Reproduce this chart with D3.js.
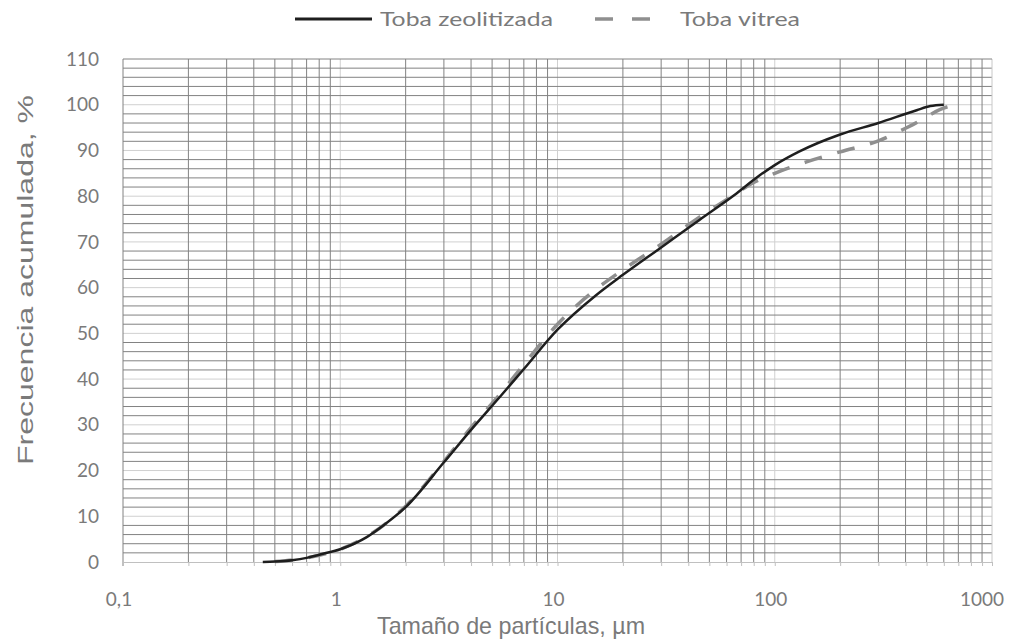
<!DOCTYPE html>
<html>
<head>
<meta charset="utf-8">
<script src="https://cdn.jsdelivr.net/npm/d3@7"></script>
<style>
  html, body { margin: 0; padding: 0; background: #fff; }
  svg { display: block; }
</style>
</head>
<body>
<svg id="chart" width="1023" height="642"></svg>
<script>
// Particle size distribution: cumulative frequency vs particle size (log scale)
const seriesNames = ["Toba zeolitizada", "Toba vitrea"];

const zeoSize  = [0.44, 0.5, 0.6, 0.7, 0.8, 1, 1.33, 1.6, 2, 3, 4, 5.5, 7, 10, 15, 20, 30, 45, 65, 85, 100, 130, 200, 300, 450, 520, 600];
const zeoFreq  = [0, 0.1, 0.4, 0.9, 1.6, 2.8, 5.5, 8.2, 12, 21.8, 28.9, 36.4, 42.2, 50.8, 58.3, 62.8, 68.8, 74.8, 80.2, 84.5, 86.8, 89.8, 93.5, 96, 98.8, 99.7, 100];

const vitSize  = [0.5, 0.7, 1, 1.33, 2, 3, 4, 5.5, 7, 10, 15, 20, 30, 45, 65, 80, 100, 140, 200, 300, 430, 620, 700];
const vitFreq  = [0.1, 0.9, 2.8, 5.6, 12.2, 22, 29.4, 37, 43.2, 52, 59.6, 63.9, 69.5, 75.4, 80.3, 83, 85, 87.5, 89.7, 92.1, 95.6, 99.5, 100];

const xTickValues = [0.1, 1, 10, 100, 1000];
const xTickLabels = ["0,1", "1", "10", "100", "1000"];
const yTickValues = [0, 10, 20, 30, 40, 50, 60, 70, 80, 90, 100, 110];

const xTitle = "Tamaño  de partículas, µm";
const yTitle = "Frecuencia acumulada, %";

const svg = d3.select("#chart");
const plotL = 123, plotR = 992, plotT = 59, plotB = 562;

const x = d3.scaleLog().domain([0.1, 1000]).range([plotL, plotR]);
const y = d3.scaleLinear().domain([0, 110]).range([plotB, plotT]);

const minorColor = "#828282";
const majorColor = "#d0d0d0";
const textColor = "#7a7a7a";

// minor vertical values (2..9 within each decade) and decade lines
const decades = [0.1, 1, 10, 100];
const xMinor = [];
decades.forEach(d => { for (let k = 2; k <= 9; k++) xMinor.push(+(d * k).toPrecision(3)); });
const xMajor = [1, 10, 100];

// horizontal grid: minor every 2, major every 10
const yMinor = d3.range(2, 110, 2).filter(v => v % 10 !== 0);
const yMajor = d3.range(10, 110, 10);

const grid = svg.append("g");
grid.selectAll(".ymaj").data(yMajor).join("line")
  .attr("x1", plotL).attr("x2", plotR)
  .attr("y1", d => y(d)).attr("y2", d => y(d))
  .attr("stroke", majorColor).attr("stroke-width", 1);
grid.selectAll(".xmaj").data(xMajor).join("line")
  .attr("x1", d => x(d)).attr("x2", d => x(d))
  .attr("y1", plotT).attr("y2", plotB)
  .attr("stroke", majorColor).attr("stroke-width", 1);
grid.selectAll(".ymin").data(yMinor).join("line")
  .attr("x1", plotL).attr("x2", plotR)
  .attr("y1", d => y(d)).attr("y2", d => y(d))
  .attr("stroke", minorColor).attr("stroke-width", 1);
grid.selectAll(".xmin").data(xMinor).join("line")
  .attr("x1", d => x(d)).attr("x2", d => x(d))
  .attr("y1", plotT).attr("y2", plotB)
  .attr("stroke", minorColor).attr("stroke-width", 1);

// plot frame
grid.append("line").attr("x1", x(1000)).attr("x2", x(1000)).attr("y1", plotT).attr("y2", plotB)
  .attr("stroke", "#c8c8c8");
grid.append("line").attr("x1", plotL).attr("x2", plotR).attr("y1", y(110)).attr("y2", y(110))
  .attr("stroke", minorColor);
grid.append("line").attr("x1", x(0.1)).attr("x2", x(0.1)).attr("y1", plotT).attr("y2", plotB + 4)
  .attr("stroke", minorColor);

// x axis (line + small ticks at every grid position)
const xAxis = d3.axisBottom(x)
  .tickValues(xTickValues.concat(xMinor))
  .tickSize(4)
  .tickFormat("");
const xg = svg.append("g").attr("transform", `translate(0,${plotB})`).call(xAxis);
xg.select(".domain").attr("stroke", "#c0c0c0");
xg.selectAll(".tick line").attr("stroke", "#c0c0c0");

// x tick labels
svg.append("g").selectAll("text").data(xTickValues).join("text")
  .attr("x", (d, i) => i === xTickValues.length - 1 ? x(d) + 12 : x(d) - 4)
  .attr("y", 601)
  .attr("text-anchor", (d, i) => i === xTickValues.length - 1 ? "end" : "middle")
  .attr("dominant-baseline", "middle")
  .attr("font-family", "Lato, 'Open Sans', sans-serif")
  .attr("font-size", 19)
  .attr("fill", textColor)
  .text((d, i) => xTickLabels[i]);

// y tick labels
const yAxis = d3.axisLeft(y).tickValues(yTickValues).tickSize(0).tickPadding(0);
const yg = svg.append("g").attr("transform", `translate(${plotL - 24},0)`).call(yAxis);
yg.select(".domain").remove();
yg.selectAll("text")
  .attr("font-family", "Lato, 'Open Sans', sans-serif")
  .attr("font-size", 19)
  .attr("fill", textColor);

// axis titles
svg.append("text")
  .attr("x", 511).attr("y", 628)
  .attr("text-anchor", "middle").attr("dominant-baseline", "middle")
  .attr("font-family", "'Liberation Sans Narrow', 'Liberation Sans', Arial, sans-serif")
  .attr("font-size", 24)
  .attr("fill", textColor)
  .attr("textLength", 268).attr("lengthAdjust", "spacingAndGlyphs")
  .text(xTitle);

svg.append("text")
  .attr("transform", "translate(27,280) rotate(-90)")
  .attr("text-anchor", "middle").attr("dominant-baseline", "middle")
  .attr("font-family", "'Liberation Sans', Arial, sans-serif")
  .attr("font-size", 22)
  .attr("fill", textColor)
  .attr("textLength", 370).attr("lengthAdjust", "spacingAndGlyphs")
  .text(yTitle);

// curves
const line = d3.line()
  .x(d => x(d[0]))
  .y(d => y(d[1]))
  .curve(d3.curveMonotoneX);

const vitData = vitSize.map((s, i) => [s, vitFreq[i]]);
const zeoData = zeoSize.map((s, i) => [s, zeoFreq[i]]);

svg.append("path").datum(vitData)
  .attr("d", line)
  .attr("fill", "none")
  .attr("stroke", "#8f8f8f")
  .attr("stroke-width", 3.5)
  .attr("stroke-dasharray", "18,16");

svg.append("path").datum(zeoData)
  .attr("d", line)
  .attr("fill", "none")
  .attr("stroke", "#1e1e1e")
  .attr("stroke-width", 2.5);

// legend
const lg = svg.append("g");
lg.append("line").attr("x1", 295).attr("x2", 372).attr("y1", 19).attr("y2", 19)
  .attr("stroke", "#1e1e1e").attr("stroke-width", 3);
lg.append("text").attr("x", 380).attr("y", 21)
  .attr("dominant-baseline", "middle")
  .attr("font-family", "Lato, 'Open Sans', sans-serif")
  .attr("font-size", 19).attr("fill", textColor)
  .attr("textLength", 173).attr("lengthAdjust", "spacingAndGlyphs")
  .text(seriesNames[0]);
lg.append("line").attr("x1", 595).attr("x2", 652).attr("y1", 19).attr("y2", 19)
  .attr("stroke", "#8f8f8f").attr("stroke-width", 3.5)
  .attr("stroke-dasharray", "18,19");
lg.append("text").attr("x", 680).attr("y", 21)
  .attr("dominant-baseline", "middle")
  .attr("font-family", "Lato, 'Open Sans', sans-serif")
  .attr("font-size", 19).attr("fill", textColor)
  .attr("textLength", 120).attr("lengthAdjust", "spacingAndGlyphs")
  .text(seriesNames[1]);
</script>
</body>
</html>
